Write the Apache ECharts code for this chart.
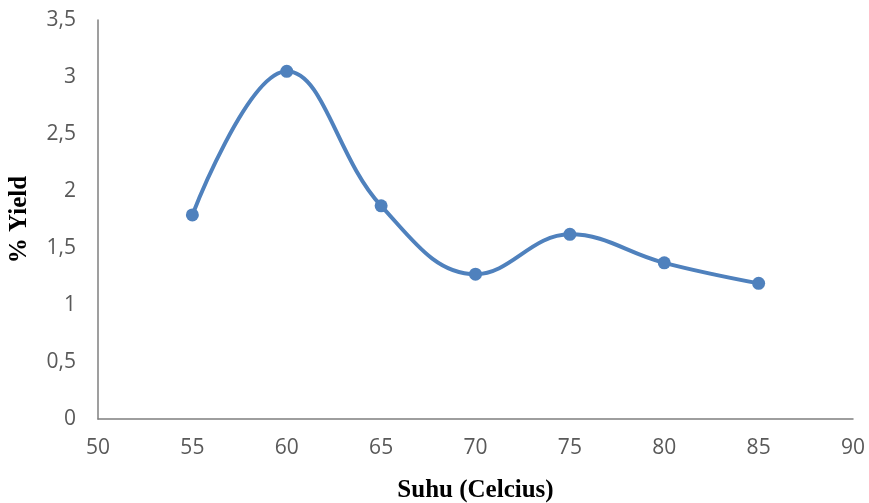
<!DOCTYPE html>
<html><head><meta charset="utf-8">
<script src="https://cdn.jsdelivr.net/npm/echarts@6/dist/echarts.min.js"></script>
<style>html,body{margin:0;padding:0;background:#fff}#c{width:869px;height:503px}</style>
</head><body><div id="c"></div>
<script>
const temps = [55, 60, 65, 70, 75, 80, 85];
const yields = [1.79, 3.05, 1.87, 1.27, 1.62, 1.37, 1.19];
const xTitle = 'Suhu (Celcius)';
const yTitle = '% Yield';

const chart = echarts.init(document.getElementById('c'));
const tickFont = {fontFamily: 'Open Sans', fontSize: 21, color: '#595959'};
chart.setOption({
  animation: false,
  grid: {left: 98, right: 16, top: 20, bottom: 84, outerBoundsMode: 'none', containLabel: false},
  xAxis: {
    type: 'value', min: 50, max: 90, interval: 5,
    name: xTitle, nameLocation: 'middle', nameGap: 59,
    nameTextStyle: {fontFamily: 'Liberation Serif', fontWeight: 'bold', fontSize: 25, color: '#000'},
    axisLine: {lineStyle: {color: '#7f7f7f', width: 1.5}},
    axisTick: {show: false},
    splitLine: {show: false},
    axisLabel: Object.assign({margin: 19}, tickFont)
  },
  yAxis: {
    type: 'value', min: 0, max: 3.5, interval: 0.5,
    name: yTitle, nameLocation: 'middle', nameGap: 66,
    nameTextStyle: {fontFamily: 'Liberation Serif', fontWeight: 'bold', fontSize: 25, color: '#000'},
    axisLine: {show: true, lineStyle: {color: '#7f7f7f', width: 1.5}},
    axisTick: {show: false},
    splitLine: {show: false},
    axisLabel: Object.assign({margin: 22, formatter: v => String(v).replace('.', ',')}, tickFont)
  },
  series: [{
    type: 'line',
    data: temps.map((t, i) => [t, yields[i]]),
    smooth: 0.4,
    symbol: 'circle', symbolSize: 13,
    lineStyle: {color: '#4F81BD', width: 4},
    itemStyle: {color: '#4F81BD'}
  }]
});
</script></body></html>
